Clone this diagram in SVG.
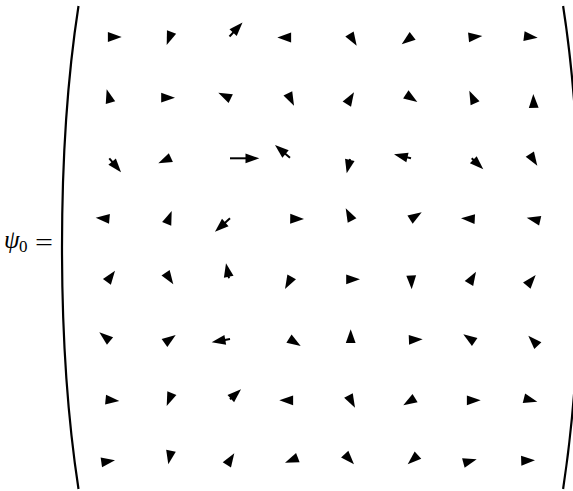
<svg xmlns="http://www.w3.org/2000/svg" xmlns:xlink="http://www.w3.org/1999/xlink" width="573" height="491" viewBox="0 0 573 491">
<style>
.h{fill:#000}
.s{stroke:#000;stroke-width:2;fill:none}
.p{stroke:#000;stroke-width:2.2;fill:none}
.t{font-family:"Liberation Serif","DejaVu Serif",serif;fill:#000}
</style>
<defs>
<path id="h" d="M0,0 L-13.8,-4.9 L-13.8,4.9 Z"/>
<path id="paren" d="M78.5,6 C67,80 62,160 62,247.5 C62,335 67,414 78.5,489"/>
</defs>
<rect width="573" height="491" fill="#fff"/>
<g id="label" class="t">
<text x="4" y="248" font-size="25" font-style="italic">ψ</text>
<text x="19" y="251.5" font-size="17">0</text>
<text x="35" y="251" font-size="26" textLength="18" lengthAdjust="spacingAndGlyphs">=</text>
</g>
<g id="brackets">
<use xlink:href="#paren" class="p"/>
<use xlink:href="#paren" class="p" transform="translate(641.6,0) scale(-1,1)"/>
</g>
<g id="shafts" class="s">
<line x1="229.5" y1="36.5" x2="237.1" y2="28.4"/>
<line x1="109.3" y1="158.3" x2="115.9" y2="166.2"/>
<line x1="230" y1="158.3" x2="251.3" y2="158.3"/>
<line x1="290" y1="157.7" x2="281.1" y2="150.2"/>
<line x1="350" y1="159" x2="348.5" y2="165.5"/>
<line x1="411" y1="158.3" x2="401.8" y2="156.1"/>
<line x1="471.7" y1="158.3" x2="477.5" y2="163.8"/>
<line x1="230" y1="218.3" x2="221" y2="226.4"/>
<line x1="229" y1="278.3" x2="227.6" y2="271.2"/>
<line x1="230" y1="339" x2="219.6" y2="340.9"/>
<line x1="230" y1="399.3" x2="235.1" y2="394.7"/>
</g>
<g id="heads" class="h">
<use xlink:href="#h" transform="translate(121.7,37) rotate(0)"/>
<use xlink:href="#h" transform="translate(166.7,45) rotate(110.6)"/>
<use xlink:href="#h" transform="translate(242.5,22.5) rotate(-47.1)"/>
<use xlink:href="#h" transform="translate(277.3,37.5) rotate(180)"/>
<use xlink:href="#h" transform="translate(356.7,45.7) rotate(58.4)"/>
<use xlink:href="#h" transform="translate(401.7,44.3) rotate(142.4)"/>
<use xlink:href="#h" transform="translate(482.3,36) rotate(-6)"/>
<use xlink:href="#h" transform="translate(537.7,37.7) rotate(7)"/>

<use xlink:href="#h" transform="translate(106.7,89.3) rotate(-105.8)"/>
<use xlink:href="#h" transform="translate(175,97.7) rotate(0)"/>
<use xlink:href="#h" transform="translate(218.3,92.7) rotate(205.8)"/>
<use xlink:href="#h" transform="translate(294,105.7) rotate(63.6)"/>
<use xlink:href="#h" transform="translate(354,92.3) rotate(-58.7)"/>
<use xlink:href="#h" transform="translate(417.3,102) rotate(33.7)"/>
<use xlink:href="#h" transform="translate(469.3,90.7) rotate(-114.7)"/>
<use xlink:href="#h" transform="translate(533.3,94) rotate(-91.8)"/>

<use xlink:href="#h" transform="translate(121,172.3) rotate(50.1)"/>
<use xlink:href="#h" transform="translate(158.3,163.3) rotate(155.6)"/>
<use xlink:href="#h" transform="translate(259.3,158.3) rotate(0)"/>
<use xlink:href="#h" transform="translate(275,145) rotate(-139.7)"/>
<use xlink:href="#h" transform="translate(346.7,173.3) rotate(103)"/>
<use xlink:href="#h" transform="translate(394,154.3) rotate(193.2)"/>
<use xlink:href="#h" transform="translate(483.3,169.3) rotate(43.5)"/>
<use xlink:href="#h" transform="translate(537.3,165.7) rotate(57.2)"/>

<use xlink:href="#h" transform="translate(95.7,217.7) rotate(185)"/>
<use xlink:href="#h" transform="translate(171.7,211) rotate(-68.7)"/>
<use xlink:href="#h" transform="translate(215,231.7) rotate(138.2)"/>
<use xlink:href="#h" transform="translate(304,219) rotate(1)"/>
<use xlink:href="#h" transform="translate(345.7,208.3) rotate(-117.5)"/>
<use xlink:href="#h" transform="translate(421.7,212.3) rotate(-32.3)"/>
<use xlink:href="#h" transform="translate(461,218.3) rotate(183)"/>
<use xlink:href="#h" transform="translate(526.7,217.7) rotate(192.7)"/>

<use xlink:href="#h" transform="translate(115,270.7) rotate(-54)"/>
<use xlink:href="#h" transform="translate(173.3,284.3) rotate(56)"/>
<use xlink:href="#h" transform="translate(226,263.3) rotate(-101.3)"/>
<use xlink:href="#h" transform="translate(285,289) rotate(119)"/>
<use xlink:href="#h" transform="translate(360,279.3) rotate(0)"/>
<use xlink:href="#h" transform="translate(411.7,289.3) rotate(88)"/>
<use xlink:href="#h" transform="translate(476,271.7) rotate(-59.3)"/>
<use xlink:href="#h" transform="translate(535.7,275) rotate(-49.8)"/>

<use xlink:href="#h" transform="translate(99.3,332.3) rotate(-141)"/>
<use xlink:href="#h" transform="translate(175.7,335) rotate(-35.8)"/>
<use xlink:href="#h" transform="translate(211.7,342.3) rotate(169.8)"/>
<use xlink:href="#h" transform="translate(300.7,346) rotate(32)"/>
<use xlink:href="#h" transform="translate(350.7,329.3) rotate(-90)"/>
<use xlink:href="#h" transform="translate(422.7,339.3) rotate(-2)"/>
<use xlink:href="#h" transform="translate(463.3,334.3) rotate(-145.8)"/>
<use xlink:href="#h" transform="translate(528.3,335.7) rotate(-133.8)"/>

<use xlink:href="#h" transform="translate(119.3,401) rotate(5.7)"/>
<use xlink:href="#h" transform="translate(166.7,406) rotate(112)"/>
<use xlink:href="#h" transform="translate(241,389.3) rotate(-42.3)"/>
<use xlink:href="#h" transform="translate(279.3,400.3) rotate(180)"/>
<use xlink:href="#h" transform="translate(355,407.7) rotate(61.7)"/>
<use xlink:href="#h" transform="translate(403.3,405.3) rotate(148.5)"/>
<use xlink:href="#h" transform="translate(480.7,400.3) rotate(0)"/>
<use xlink:href="#h" transform="translate(537.3,401.7) rotate(14.5)"/>

<use xlink:href="#h" transform="translate(115,460.3) rotate(-8.3)"/>
<use xlink:href="#h" transform="translate(168.3,464.3) rotate(101.2)"/>
<use xlink:href="#h" transform="translate(234.3,453.3) rotate(-57.3)"/>
<use xlink:href="#h" transform="translate(285,462.7) rotate(158.6)"/>
<use xlink:href="#h" transform="translate(354,464.3) rotate(47.7)"/>
<use xlink:href="#h" transform="translate(407.7,464.3) rotate(138)"/>
<use xlink:href="#h" transform="translate(476.7,459.3) rotate(-15.2)"/>
<use xlink:href="#h" transform="translate(535,460.3) rotate(-1.8)"/>
</g>
</svg>
